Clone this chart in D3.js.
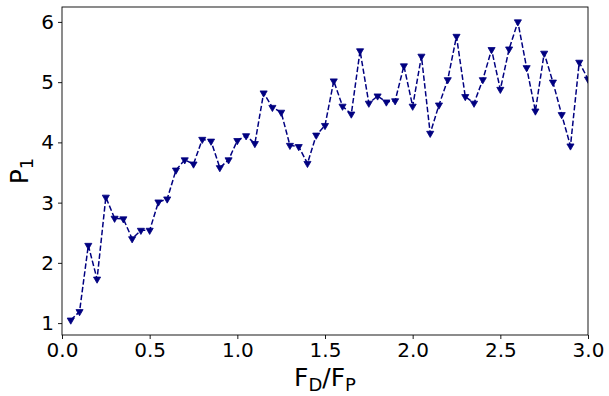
<!DOCTYPE html>
<html>
<head>
<meta charset="utf-8">
<script src="https://cdn.jsdelivr.net/npm/d3@7"></script>
<style>
  body { margin: 0; background: #fff; }
  text { font-family: "DejaVu Sans", sans-serif; }
</style>
</head>
<body>
<svg id="chart" width="609" height="396"></svg>
<script>
// ratio F_D/F_P, step 0.05
const ratios = d3.range(1, 61).map(i => +(i * 0.05).toFixed(2));
const p1 = [
  1.05, 1.19, 2.29, 1.73, 3.09, 2.74, 2.73, 2.40, 2.54, 2.54,
  3.01, 3.06, 3.54, 3.71, 3.64, 4.05, 4.02, 3.58, 3.71, 4.03,
  4.11, 3.98, 4.82, 4.58, 4.50, 3.95, 3.93, 3.65, 4.12, 4.28,
  5.02, 4.60, 4.47, 5.52, 4.65, 4.77, 4.67, 4.69, 5.27, 4.60,
  5.43, 4.15, 4.62, 5.04, 5.76, 4.76, 4.65, 5.04, 5.54, 4.88,
  5.55, 6.00, 5.24, 4.52, 5.48, 5.00, 4.46, 3.94, 5.33, 5.05
];
const xTicks = [0, 0.5, 1.0, 1.5, 2.0, 2.5, 3.0];
const yTicks = [1, 2, 3, 4, 5, 6];

const svg = d3.select('#chart');
const m = {left: 62, right: 588, top: 7, bottom: 335};

const x = d3.scaleLinear().domain([0, 3]).range([m.left, m.right]);
const yMin = d3.min(p1), yMax = d3.max(p1), pad = (yMax - yMin) * 0.05;
const y = d3.scaleLinear().domain([yMin - pad, yMax + pad]).range([m.bottom, m.top]);

svg.append('clipPath').attr('id', 'clip')
  .append('rect')
  .attr('x', m.left).attr('y', m.top)
  .attr('width', m.right - m.left).attr('height', m.bottom - m.top);

const plot = svg.append('g').attr('clip-path', 'url(#clip)');

const line = d3.line().x((d, i) => x(ratios[i])).y(d => y(d));
plot.append('path')
  .datum(p1)
  .attr('d', line)
  .attr('fill', 'none')
  .attr('stroke', '#000080')
  .attr('stroke-width', 1.5)
  .attr('stroke-dasharray', '5.5,2.4');

const tri = d3.symbol().type(d3.symbolTriangle).size(22);
plot.selectAll('.mk').data(p1).enter().append('path')
  .attr('class', 'mk')
  .attr('d', tri)
  .attr('transform', (d, i) => `translate(${x(ratios[i])},${y(d)}) rotate(180)`)
  .attr('fill', '#000080')
  .attr('stroke', '#000080')
  .attr('stroke-width', 0.8);

// axes
const xAxis = d3.axisBottom(x).tickValues(xTicks).tickFormat(d3.format('.1f')).tickSize(4).tickPadding(4);
const yAxis = d3.axisLeft(y).tickValues(yTicks).tickFormat(d3.format('d')).tickSize(4).tickPadding(4);

const gx = svg.append('g').attr('transform', `translate(0,${m.bottom})`).call(xAxis);
const gy = svg.append('g').attr('transform', `translate(${m.left},0)`).call(yAxis);
[gx, gy].forEach(g => {
  g.select('.domain').remove();
  g.selectAll('line').attr('stroke', '#000').attr('stroke-width', 0.9);
  g.selectAll('text').attr('font-size', 20).attr('fill', '#000')
    .attr('font-family', '"DejaVu Sans", sans-serif');
});

svg.append('rect')
  .attr('x', m.left).attr('y', m.top)
  .attr('width', m.right - m.left).attr('height', m.bottom - m.top)
  .attr('fill', 'none').attr('stroke', '#000').attr('stroke-width', 0.9);

// labels
const xl = svg.append('text')
  .attr('x', (m.left + m.right) / 2).attr('y', 386)
  .attr('text-anchor', 'middle').attr('font-size', 25);
xl.append('tspan').text('F');
xl.append('tspan').text('D').attr('font-size', 18).attr('dy', 5);
xl.append('tspan').text('/F').attr('dy', -5);
xl.append('tspan').text('P').attr('font-size', 18).attr('dy', 5);

const yl = svg.append('text')
  .attr('transform', `translate(28,${(m.top + m.bottom) / 2}) rotate(-90)`)
  .attr('text-anchor', 'middle').attr('font-size', 25);
yl.append('tspan').text('P');
yl.append('tspan').text('1').attr('font-size', 18).attr('dy', 5);
</script>
</body>
</html>
